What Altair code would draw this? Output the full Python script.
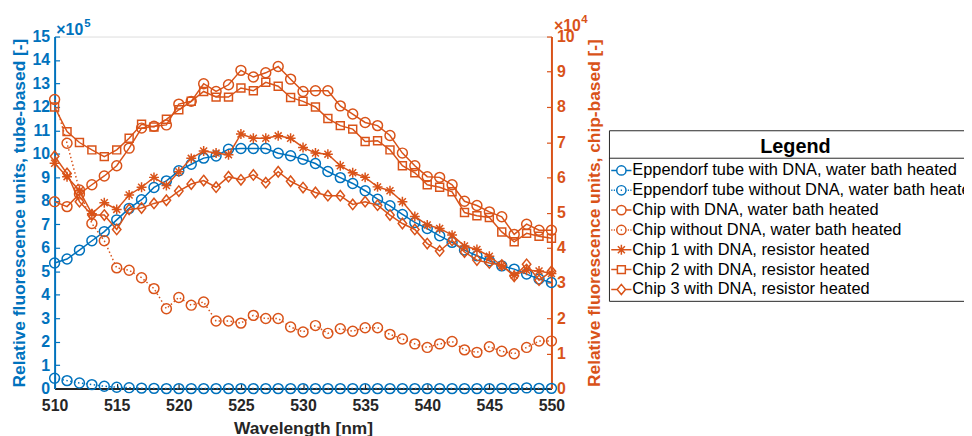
import altair as alt
import pandas as pd

# ---------------- data ----------------
wavelength = list(range(510, 551))

# left axis, units of 1e5
tube_dna = [5.35, 5.52, 5.90, 6.30, 6.69, 7.19, 7.68, 8.05, 8.57, 8.85, 9.28, 9.56, 9.82, 9.91,
            10.20, 10.23, 10.23, 10.23, 10.03, 9.92, 9.77, 9.59, 9.25, 8.99, 8.74, 8.43, 8.07,
            7.79, 7.42, 7.08, 6.82, 6.51, 6.23, 5.90, 5.66, 5.45, 5.23, 5.09, 4.88, 4.67, 4.52]
tube_nodna = [0.44, 0.34, 0.24, 0.17, 0.10, 0.06, 0.04, 0.02, 0.01, 0.00, 0.00, 0.00, 0.00, 0.00,
              0.00, 0.00, 0.00, 0.00, 0.00, 0.00, 0.00, 0.00, 0.00, 0.00, 0.00, 0.00, 0.00, 0.00,
              0.00, 0.00, 0.00, 0.00, 0.00, 0.00, 0.00, 0.00, 0.01, 0.01, 0.03, 0.01, 0.01]

# right axis, units of 1e4
chip_dna = [5.31, 5.17, 5.53, 5.79, 6.04, 6.33, 6.83, 7.40, 7.45, 7.49, 8.08, 8.16, 8.66, 8.44,
            8.63, 9.04, 8.85, 8.97, 9.15, 8.79, 8.44, 8.46, 8.46, 8.03, 7.80, 7.56, 7.47, 7.19,
            6.69, 6.33, 6.02, 6.00, 5.79, 5.32, 5.20, 5.02, 4.88, 4.38, 4.67, 4.50, 4.50]
chip_nodna = [8.21, 6.97, 5.64, 4.69, 4.20, 3.43, 3.36, 3.15, 2.84, 2.27, 2.59, 2.37, 2.46, 1.92,
              1.92, 1.86, 2.08, 1.99, 1.99, 1.75, 1.61, 1.79, 1.57, 1.70, 1.63, 1.73, 1.73, 1.54,
              1.41, 1.27, 1.17, 1.27, 1.34, 1.10, 1.03, 1.19, 1.06, 0.99, 1.17, 1.35, 1.35]
chip1 = [6.40, 6.02, 5.62, 4.97, 5.28, 5.09, 5.50, 5.72, 6.00, 5.77, 6.16, 6.54, 6.75, 6.69,
         6.64, 7.23, 7.11, 7.11, 7.18, 7.11, 6.85, 6.69, 6.66, 6.33, 6.13, 6.00, 5.73, 5.62,
         5.31, 4.89, 4.65, 4.55, 4.36, 4.05, 3.95, 3.76, 3.49, 3.22, 3.36, 3.34, 3.27]
chip2 = [8.00, 7.30, 6.99, 6.78, 6.59, 6.78, 7.11, 7.51, 7.43, 7.65, 7.92, 8.16, 8.44, 8.28,
         8.28, 8.54, 8.46, 8.70, 8.59, 8.27, 8.16, 8.00, 7.67, 7.47, 7.37, 7.02, 7.04, 6.78,
         6.33, 6.13, 5.79, 5.72, 5.59, 5.00, 4.91, 4.86, 4.45, 4.17, 4.41, 4.33, 4.27]
chip3 = [6.60, 6.11, 5.31, 4.93, 4.93, 4.52, 5.09, 5.13, 5.26, 5.35, 5.61, 5.81, 5.91, 5.72,
         6.02, 5.93, 6.07, 5.85, 6.16, 5.89, 5.71, 5.57, 5.48, 5.48, 5.23, 5.31, 5.21, 4.93,
         4.69, 4.52, 4.12, 3.91, 4.21, 3.88, 3.65, 3.57, 3.51, 3.19, 3.53, 3.08, 3.33]

series_names = [
    "Eppendorf tube with DNA, water bath heated",
    "Eppendorf tube without DNA, water bath heated",
    "Chip with DNA, water bath heated",
    "Chip without DNA, water bath heated",
    "Chip 1 with DNA, resistor heated",
    "Chip 2 with DNA, resistor heated",
    "Chip 3 with DNA, resistor heated",
]
x_ticks = list(range(510, 551, 5))
left_ticks = list(range(0, 16))
right_ticks = list(range(0, 11))

# ---------------- styles ----------------
BLUE = "#0072BD"
ORANGE = "#D95319"
DARK = "#262626"
FONT = "Liberation Sans"

MARK_CIRCLE = "M-1,0A1,1 0 1,0 1,0A1,1 0 1,0 -1,0Z"
MARK_SQUARE = "M-0.8,-0.8H0.8V0.8H-0.8Z"
MARK_DIAMOND = "M0,-1.05L0.85,0L0,1.05L-0.85,0Z"
MARK_STAR = "M0,-1V1M-1,0H1M-0.7,-0.7L0.7,0.7M-0.7,0.7L0.7,-0.7"

DOTS = "M-1.2,0H-1.06M-0.9,0H-0.76M0.76,0H0.9M1.06,0H1.2M-0.07,0H0.07"
CIRC_L = "M-0.55,0A0.55,0.55 0 1,0 0.55,0A0.55,0.55 0 1,0 -0.55,0Z"
LEG_SOLID_CIRCLE = "M-1.2,0H-0.55M0.55,0H1.2" + CIRC_L
LEG_DOT_CIRCLE = DOTS + CIRC_L
LEG_STAR = "M-1.2,0H1.2M0,-0.6V0.6M-0.42,-0.42L0.42,0.42M-0.42,0.42L0.42,-0.42"
LEG_SQUARE = "M-1.2,0H-0.47M0.47,0H1.2M-0.47,-0.47H0.47V0.47H-0.47Z"
LEG_DIAMOND = "M-1.2,0H-0.5M0.5,0H1.2M0,-0.6L0.5,0L0,0.6L-0.5,0Z"

legend_paths = [LEG_SOLID_CIRCLE, LEG_DOT_CIRCLE, LEG_SOLID_CIRCLE, LEG_DOT_CIRCLE,
                LEG_STAR, LEG_SQUARE, LEG_DIAMOND]
legend_colors = [BLUE, BLUE, ORANGE, ORANGE, ORANGE, ORANGE, ORANGE]

PLOT_W = 501
PLOT_H = 355


def x_enc():
    return alt.X(
        "wl:Q",
        scale=alt.Scale(domain=[510, 550], nice=False, zero=False),
        axis=alt.Axis(
            values=x_ticks, title="Wavelength [nm]", format="d",
            labelFlush=False, labelOverlap=False, ticks=False,
            grid=True, gridColor=DARK, gridWidth=1.2,
            gridDash=[5, PLOT_H - 5], gridDashOffset=5,
            domainColor=DARK, domainWidth=2,
            labelColor=DARK, labelFont=FONT, labelFontSize=16, labelFontWeight="bold",
            labelPadding=9,
            titleColor=DARK, titleFont=FONT, titleFontSize=17.5, titleFontWeight="bold",
            titlePadding=6,
        ),
    )


def y_left():
    return alt.Y(
        "v:Q",
        scale=alt.Scale(domain=[0, 15], nice=False, zero=False),
        axis=alt.Axis(
            orient="left", values=left_ticks, format="d",
            title="Relative fluorescence units, tube-based [-]",
            labelFlush=False, labelOverlap=False, ticks=False,
            grid=True, gridColor=BLUE, gridWidth=1.2, gridDash=[5, 1000],
            domainColor=BLUE, domainWidth=2,
            labelColor=BLUE, labelFont=FONT, labelFontSize=16, labelFontWeight="bold",
            labelPadding=5,
            titleColor=BLUE, titleFont=FONT, titleFontSize=17.5, titleFontWeight="bold",
            titlePadding=4,
        ),
    )


def y_right():
    return alt.Y(
        "v:Q",
        scale=alt.Scale(domain=[0, 10], nice=False, zero=False),
        axis=alt.Axis(
            orient="right", values=right_ticks, format="d",
            title="Relative fluorescence units, chip-based [-]",
            labelFlush=False, labelOverlap=False, ticks=False,
            grid=True, gridColor=ORANGE, gridWidth=1.2, gridDash=[5, 1000],
            domainColor=ORANGE, domainWidth=2,
            labelColor=ORANGE, labelFont=FONT, labelFontSize=16, labelFontWeight="bold",
            labelPadding=5,
            titleColor=ORANGE, titleFont=FONT, titleFontSize=17.5, titleFontWeight="bold",
            titleAngle=270, titleBaseline="top", titlePadding=12,
        ),
    )


def series_layers(vals, name, color, dotted, shape, yfun):
    d = pd.DataFrame({"wl": wavelength, "v": vals, "series": name})
    lk = dict(color=color, strokeWidth=1.5)
    if dotted:
        lk["strokeDash"] = [1.5, 2.5]
    line = alt.Chart(d).mark_line(**lk).encode(x=x_enc(), y=yfun())
    pts = alt.Chart(d).mark_point(
        shape=shape, size=100, filled=False, color=color, strokeWidth=1.5, opacity=1
    ).encode(x=x_enc(), y=yfun())
    return [line, pts]


blue_layers = []
blue_layers += series_layers(tube_dna, series_names[0], BLUE, False, MARK_CIRCLE, y_left)
blue_layers += series_layers(tube_nodna, series_names[1], BLUE, True, MARK_CIRCLE, y_left)
blue = alt.layer(*blue_layers)

orange_layers = []
orange_layers += series_layers(chip_dna, series_names[2], ORANGE, False, MARK_CIRCLE, y_right)
orange_layers += series_layers(chip_nodna, series_names[3], ORANGE, True, MARK_CIRCLE, y_right)
orange_layers += series_layers(chip1, series_names[4], ORANGE, False, MARK_STAR, y_right)
orange_layers += series_layers(chip2, series_names[5], ORANGE, False, MARK_SQUARE, y_right)
orange_layers += series_layers(chip3, series_names[6], ORANGE, False, MARK_DIAMOND, y_right)

leg = alt.Legend(
    orient="none", legendX=559, legendY=94.5,
    title="Legend", titleFont=FONT, titleFontSize=20, titleFontWeight="bold",
    titleColor="black", titleAnchor="middle", titleBaseline="line-top",
    titleLineHeight=28, titlePadding=8,
    labelFont=FONT, labelFontSize=16.5, labelColor="black", labelLimit=1000,
    labelOffset=1.5, rowPadding=2.0, padding=3,
    strokeColor=DARK, symbolSize=289, symbolStrokeWidth=1.5,
    symbolFillColor="transparent", direction="vertical",
)
legend_df = pd.DataFrame({"series": series_names})
legend_layer = alt.Chart(legend_df).mark_point(
    size=0, filled=False, strokeWidth=1.5, opacity=1
).encode(
    color=alt.Color("series:N", scale=alt.Scale(domain=series_names, range=legend_colors), legend=leg),
    shape=alt.Shape("series:N", scale=alt.Scale(domain=series_names, range=legend_paths), legend=leg),
)
orange = alt.layer(*orange_layers, legend_layer)

one = pd.DataFrame({"a": [0]})
sep = alt.Chart(one).mark_rule(color=DARK, strokeWidth=1).encode(
    x=alt.value(559), x2=alt.value(930), y=alt.value(122.7)
)
exp5 = alt.Chart(one).mark_text(text="×10", font=FONT, fontSize=16, fontWeight="bold",
                                color=BLUE, align="left", baseline="alphabetic").encode(
    x=alt.value(1.7), y=alt.value(-1.7))
exp5s = alt.Chart(one).mark_text(text="5", font=FONT, fontSize=11.5, fontWeight="bold",
                                 color=BLUE, align="left", baseline="alphabetic").encode(
    x=alt.value(30), y=alt.value(-10))
exp4 = alt.Chart(one).mark_text(text="×10", font=FONT, fontSize=16, fontWeight="bold",
                                color=ORANGE, align="left", baseline="alphabetic").encode(
    x=alt.value(503.5), y=alt.value(-5.5))
exp4s = alt.Chart(one).mark_text(text="4", font=FONT, fontSize=11.5, fontWeight="bold",
                                 color=ORANGE, align="left", baseline="alphabetic").encode(
    x=alt.value(531), y=alt.value(-14))

chart = alt.layer(blue, orange, sep, exp5, exp5s, exp4, exp4s).resolve_scale(
    y="independent"
).properties(
    width=PLOT_W, height=PLOT_H,
    padding={"left": 47, "top": 27, "right": 416, "bottom": 46},
    autosize=alt.AutoSizeParams(type="none"),
    background="white",
).configure_view(strokeWidth=0).configure(font=FONT)

chart.save("out.html", embed_options={"renderer": "svg", "actions": False})
